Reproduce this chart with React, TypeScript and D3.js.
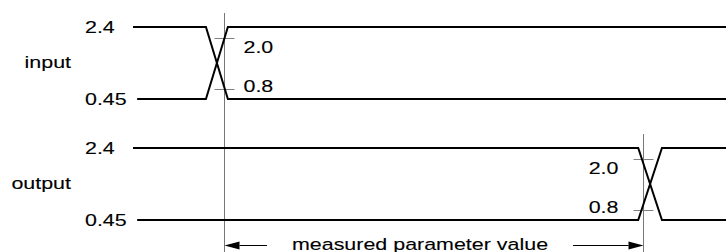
import React, { useEffect, useRef } from 'react';
import { line, scaleLinear, scalePoint, select } from 'd3';

// timing diagram data (time in arbitrary units, levels in volts)
const timeDomain = [0, 100];
const signalNames = ['input', 'output'];
const railLevels = [2.4, 0.45];
const railLabels = ['2.4', '0.45'];
const railStart = [0, 0.7];
const thresholdLevels = [2.0, 0.8];
const thresholdLabels = ['2.0', '0.8'];
const edgeStart = [12.3, 85.2];
const edgeEnd = [16.0, 89.2];
const markerTime = [15.3, 86.0];
const labelSide = ['right', 'left'];
const measureText = 'measured parameter value';
const measureCenter = 48.4;

const FONT = '"Liberation Sans", Arial, Helvetica, sans-serif';
const STRETCH = 1.34;

const App = () => {
  const ref = useRef<SVGSVGElement | null>(null);

  useEffect(() => {
    const width = 726;
    const height = 252;
    const svg = select(ref.current);
    svg.selectAll('*').remove();
    svg.attr('width', width).attr('height', height);

    const x = scaleLinear().domain(timeDomain).range([133, 726]);
    const lane = scalePoint().domain(signalNames).range([27, 148]);
    const level = scaleLinear().domain([0.45, 0.8, 2.0, 2.4]).range([72, 62, 10.5, 0]);
    const crisp = (v: number) => Math.round(v) + 0.5;

    const addText = (
      g: any,
      tx: number,
      ty: number,
      txt: string,
      anchor = 'start'
    ) =>
      g
        .append('text')
        .attr('transform', `translate(${tx},${ty}) scale(${STRETCH},1)`)
        .attr('text-anchor', anchor)
        .style('font-family', FONT)
        .style('font-size', '16px')
        .attr('fill', '#000')
        .attr('stroke', '#000')
        .attr('stroke-width', 0.1)
        .text(txt);

    signalNames.forEach((name, i) => {
      const top = lane(name) ?? 0;
      const y = (v: number) => top + level(v);
      const g = svg.append('g');
      const [hi, lo] = railLevels;

      // signal name and rail labels
      addText(g, 71, top + level(0.45) / 2 + 4.8, name, 'end');
      railLevels.forEach((v, k) => {
        addText(g, 85, y(v) + 5.7, railLabels[k]);
      });

      const mx = crisp(x(markerTime[i]));

      // marker line
      g.append('line')
        .attr('x1', mx)
        .attr('x2', mx)
        .attr('y1', y(hi) - 14)
        .attr('y2', height)
        .attr('stroke', '#777')
        .attr('stroke-width', 1);

      // threshold ticks + labels
      thresholdLevels.forEach((v, k) => {
        const ty = crisp(y(v));
        g.append('line')
          .attr('x1', mx - 10)
          .attr('x2', mx + 10)
          .attr('y1', ty)
          .attr('y2', ty)
          .attr('stroke', '#808080')
          .attr('stroke-width', 1);
        const off = k === 0 ? 15.7 : 2.7;
        if (labelSide[i] === 'right') addText(g, mx + 19, y(v) + off, thresholdLabels[k]);
        else addText(g, mx - 25, y(v) + off, thresholdLabels[k], 'end');
      });

      // crossing signal lines
      const paths = [
        [
          [railStart[0], hi],
          [edgeStart[i], hi],
          [edgeEnd[i], lo],
          [timeDomain[1], lo],
        ],
        [
          [railStart[1], lo],
          [edgeStart[i], lo],
          [edgeEnd[i], hi],
          [timeDomain[1], hi],
        ],
      ];
      const gen = line<number[]>()
        .x((d) => x(d[0]))
        .y((d) => y(d[1]));
      paths.forEach((p) => {
        g.append('path')
          .attr('d', gen(p))
          .attr('fill', 'none')
          .attr('stroke', '#000')
          .attr('stroke-width', 2);
      });
    });

    // measurement arrows
    const ay = 245.5;
    const x0 = crisp(x(markerTime[0]));
    const x1 = crisp(x(markerTime[1]));
    const cx = x(measureCenter);
    const label = addText(svg, cx, 249.5, measureText, 'middle');
    const tw = ((label.node() as SVGTextElement).getComputedTextLength() || 190) * STRETCH;
    const gap = 25;
    const head = 15;
    const hw = 4;

    svg
      .append('line')
      .attr('x1', x0 + head)
      .attr('x2', cx - tw / 2 - gap)
      .attr('y1', ay)
      .attr('y2', ay)
      .attr('stroke', '#000');
    svg
      .append('path')
      .attr('d', `M${x0},${ay}L${x0 + head},${ay - hw}L${x0 + head},${ay + hw}Z`)
      .attr('fill', '#000');

    svg
      .append('line')
      .attr('x1', cx + tw / 2 + gap)
      .attr('x2', x1 - head)
      .attr('y1', ay)
      .attr('y2', ay)
      .attr('stroke', '#000');
    svg
      .append('path')
      .attr('d', `M${x1},${ay}L${x1 - head},${ay - hw}L${x1 - head},${ay + hw}Z`)
      .attr('fill', '#000');
  }, []);

  return (
    <svg
      ref={ref}
      style={{ position: 'absolute', left: 0, top: 0, display: 'block', background: '#fff' }}
    />
  );
};

export default App;
